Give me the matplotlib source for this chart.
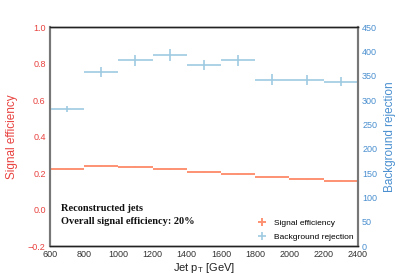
import numpy as np
import matplotlib
matplotlib.use("Agg")
import matplotlib.pyplot as plt

# bin edges in jet pT [GeV]
bin_edges = [600, 800, 1000, 1200, 1400, 1600, 1800, 2000, 2200, 2400]

sig_eff = [0.220, 0.237, 0.234, 0.222, 0.207, 0.194, 0.180, 0.167, 0.157]
sig_err = [0.003, 0.003, 0.003, 0.003, 0.003, 0.003, 0.003, 0.003, 0.003]

bkg_rej = [282, 358, 382, 393, 372, 382, 342, 342, 338]
bkg_err = [6, 10, 11, 12, 10, 11, 11, 10, 10]

SIG_COLOR = "#fc9272"
BKG_COLOR = "#9ecae1"
RED = "#e8423f"
BLUE = "#4a8fd0"

plt.rcParams["font.family"] = ["Liberation Sans", "DejaVu Sans"]

edges = np.array(bin_edges)
centers = 0.5 * (edges[:-1] + edges[1:])
half_w = 0.5 * (edges[1:] - edges[:-1])

fig = plt.figure(figsize=(3.99, 2.74), dpi=100)
ax = fig.add_axes([0.125, 0.102, 0.772, 0.799])
ax2 = ax.twinx()

h1 = ax.errorbar(centers, sig_eff, xerr=half_w, yerr=sig_err, fmt="none",
                 ecolor=SIG_COLOR, elinewidth=1.4, capsize=0,
                 label="Signal efficiency")
h2 = ax2.errorbar(centers, bkg_rej, xerr=half_w, yerr=bkg_err, fmt="none",
                  ecolor=BKG_COLOR, elinewidth=1.2, capsize=0,
                  label="Background rejection")

ax.set_xlim(600, 2400)
ax.set_ylim(-0.2, 1.0)
ax2.set_ylim(0, 450)
ax.set_xticks(np.arange(600, 2401, 200))
ax.set_yticks(np.arange(-0.2, 1.01, 0.2))
ax.set_yticklabels([f"{v:.1f}".replace("-", "\u2212") for v in np.arange(-0.2, 1.01, 0.2)])
ax2.set_yticks(np.arange(0, 451, 50))

ax.tick_params(axis="both", length=0, labelsize=6.5, pad=3)
ax.tick_params(axis="y", colors=RED)
ax.tick_params(axis="x", colors="#333333")
ax2.tick_params(axis="y", length=0, labelsize=6.5, colors=BLUE, pad=3)

for a in (ax, ax2):
    a.spines["top"].set_color("#222222")
    a.spines["bottom"].set_color("#222222")
    a.spines["left"].set_color("#777777")
    a.spines["right"].set_color("#777777")
    a.spines["left"].set_linewidth(1.5)
    a.spines["right"].set_linewidth(1.5)
    a.spines["top"].set_linewidth(1.0)
    a.spines["bottom"].set_linewidth(1.0)

ax.set_ylabel("Signal efficiency", color=RED, fontsize=8.5, labelpad=7)
ax2.set_ylabel("Background rejection", color=BLUE, fontsize=8.5, labelpad=5)
ax.set_xlabel(r"Jet p$_\mathregular{T}$ [GeV]", fontsize=8, color="#222222", labelpad=1)

ax.text(0.035, 0.19, "Reconstructed jets\nOverall signal efficiency: 20%",
        transform=ax.transAxes, family=["Liberation Serif", "DejaVu Serif"],
        fontweight="bold", fontsize=7.5, linespacing=1.45, va="top", color="#111111")

ax.legend([h1, h2], ["Signal efficiency", "Background rejection"],
          loc="lower right", fontsize=6, frameon=False, handlelength=1.2,
          labelspacing=0.75, bbox_to_anchor=(1.01, -0.01))

fig.savefig("out.png", dpi=100)
